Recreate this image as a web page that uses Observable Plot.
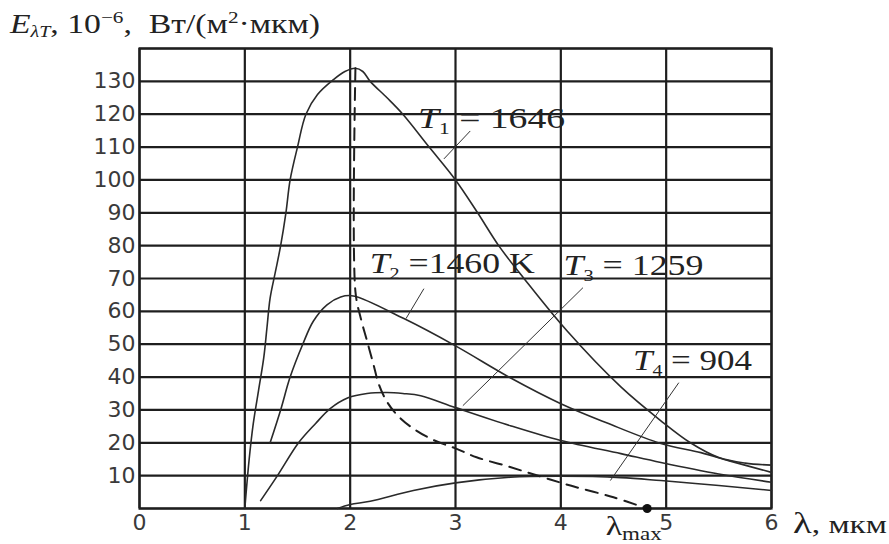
<!DOCTYPE html>
<html>
<head>
<meta charset="utf-8">
<script src="https://cdn.jsdelivr.net/npm/d3@7"></script>
<script src="https://cdn.jsdelivr.net/npm/@observablehq/plot@0.6"></script>
<style>
  html, body { margin: 0; padding: 0; background: #fff; }
  #chart svg { display: block; }
</style>
</head>
<body>
<div id="chart"></div>
<script>
// ---- data ----
const xTicks = [0, 1, 2, 3, 4, 5, 6];
const yTicks = [10, 20, 30, 40, 50, 60, 70, 80, 90, 100, 110, 120, 130];
const yGrid = [0, 10, 20, 30, 40, 50, 60, 70, 80, 90, 100, 110, 120, 130, 140];

// T1 = 1646
const t1Lambda = [1.0, 1.04, 1.08, 1.13, 1.18, 1.21, 1.24, 1.29, 1.34, 1.39, 1.43, 1.50, 1.58, 1.69, 1.84, 1.95, 2.05, 2.12, 2.19, 2.35, 2.50, 2.75, 3.0, 3.21, 3.41, 3.65, 4.06, 4.57, 4.95, 5.23, 5.5, 5.75, 6.0];
const t1E      = [0, 14.6, 25.8, 35.9, 46, 55, 64, 72, 80, 90, 100, 110, 120, 126, 130.5, 133, 134, 133, 130, 125, 120, 110, 100, 90, 80, 70, 54, 37, 26.7, 20, 15.5, 13.8, 13.2];
// T2 = 1460 K
const t2Lambda = [1.24, 1.34, 1.43, 1.55, 1.65, 1.78, 1.91, 2.03, 2.51, 3.0, 3.52, 4.0, 4.44, 4.95, 5.33, 5.6, 6.0];
const t2E      = [20, 30, 40, 50, 57, 62, 64.4, 64.7, 57.8, 49.5, 39.8, 31.9, 26, 19.8, 17, 14.5, 11];
// T3 = 1259
const t3Lambda = [1.15, 1.31, 1.51, 1.67, 1.81, 1.98, 2.16, 2.35, 2.5, 2.67, 3.0, 3.52, 4.0, 4.57, 4.95, 5.5, 6.0];
const t3E      = [2.4, 10, 20, 25.8, 30.4, 33.7, 35, 35.3, 35, 34.3, 30.7, 25.2, 20.7, 16.7, 14, 10.5, 8];
// T4 = 904
const t4Lambda = [1.88, 2.0, 2.19, 2.6, 3.0, 3.52, 4.0, 4.57, 4.95, 5.5, 6.0];
const t4E      = [0, 1.2, 2.2, 5.5, 7.8, 9.5, 9.8, 9.4, 8.5, 7, 5.5];
// locus of maxima (dashed)
const maxLambda = [2.05, 2.05, 2.1, 2.16, 2.22, 2.27, 2.34, 2.43, 2.57, 2.78, 3.0, 3.2, 3.5, 3.8, 4.1, 4.5, 4.82];
const maxE      = [134, 66, 58, 51, 44, 38, 33, 29, 25, 21, 18.3, 15.6, 12.8, 9.8, 6.9, 3.4, 0];
const lambdaMaxPoint = [{x: 4.82, y: 0}];

// curve labels: text anchor (data coords) and leader line (data coords)
const labelNames = ["1", "2", "3", "4"];
const labelRest = [" = 1646", " =1460 K", " = 1259", " = 904"];
const labelX = [2.65, 2.19, 4.03, 4.69];
const labelY = [115.8, 71.4, 70.8, 41.9];
const labelWidths = [147, 165, 140, 119];
const leaderX1 = [3.14, 2.70, 4.21, 5.12];
const leaderY1 = [114.9, 66.9, 67.2, 38.3];
const leaderX2 = [2.89, 2.53, 3.07, 4.47];
const leaderY2 = [106.4, 57.8, 31.3, 8.5];

// ---- tables built from arrays ----
const series = (xs, ys) => xs.map((x, i) => ({x, y: ys[i]}));
const t1 = series(t1Lambda, t1E);
const t2 = series(t2Lambda, t2E);
const t3 = series(t3Lambda, t3E);
const t4 = series(t4Lambda, t4E);
const locus = series(maxLambda, maxE);
const leaders = labelNames.map((n, i) => ({x1: leaderX1[i], y1: leaderY1[i], x2: leaderX2[i], y2: leaderY2[i]}));

const curveStyle = {x: "x", y: "y", stroke: "#2a2a2a", strokeWidth: 1.6, curve: "catmull-rom"};

const chart = Plot.plot({
  width: 889,
  height: 544,
  marginLeft: 139,
  marginRight: 118,
  marginTop: 48,
  marginBottom: 36,
  style: {fontFamily: "'DejaVu Sans', sans-serif", fontSize: "22px", color: "#3a3a3a", background: "#fff"},
  x: {domain: [0, 6]},
  y: {domain: [0, 140]},
  marks: [
    Plot.gridX(xTicks, {stroke: "#1e1e1e", strokeOpacity: 1, strokeWidth: 2.2}),
    Plot.gridY(yGrid, {stroke: "#1e1e1e", strokeOpacity: 1, strokeWidth: 2.2}),
    Plot.frame({stroke: "#1e1e1e", strokeWidth: 2.2}),
    Plot.axisX(xTicks, {tickSize: 0, tickPadding: 6, label: null, tickFormat: d => String(d)}),
    Plot.axisY(yTicks, {tickSize: 0, tickPadding: 4, label: null, tickFormat: d => String(d)}),
    Plot.line(t1, curveStyle),
    Plot.line(t2, curveStyle),
    Plot.line(t3, curveStyle),
    Plot.line(t4, curveStyle),
    Plot.line(locus, {x: "x", y: "y", stroke: "#1e1e1e", strokeWidth: 2, strokeDasharray: "12,8", curve: "catmull-rom"}),
    Plot.dot(lambdaMaxPoint, {x: "x", y: "y", r: 4.5, fill: "#111", stroke: "none"}),
    Plot.link(leaders, {x1: "x1", y1: "y1", x2: "x2", y2: "y2", stroke: "#333", strokeWidth: 1})
  ]
});

document.getElementById("chart").appendChild(chart);

// ---- rich text (sub/superscripts) placed via the chart's scales ----
const xs = chart.scale("x"), ys = chart.scale("y");
const svg = d3.select(chart);
const serif = "'Liberation Serif', 'Times New Roman', serif";

labelNames.forEach((n, i) => {
  const t = svg.append("text")
    .attr("x", xs.apply(labelX[i]))
    .attr("y", ys.apply(labelY[i]))
    .attr("text-anchor", "start")
    .attr("font-family", serif)
    .attr("font-size", 30)
    .attr("fill", "#222")
    .attr("textLength", labelWidths[i])
    .attr("lengthAdjust", "spacingAndGlyphs");
  t.append("tspan").attr("font-style", "italic").text("T");
  t.append("tspan").attr("font-size", 17).attr("dy", 6).text(n);
  t.append("tspan").attr("dy", -6).text(labelRest[i]);
});

// y-axis title
const yt = svg.append("text")
  .attr("x", 10).attr("y", 33)
  .attr("text-anchor", "start")
  .attr("font-family", serif).attr("font-size", 27).attr("fill", "#222")
  .attr("textLength", 310).attr("lengthAdjust", "spacingAndGlyphs");
yt.append("tspan").attr("font-style", "italic").text("E");
yt.append("tspan").attr("font-style", "italic").attr("font-size", 16).attr("dy", 4).text("λT");
yt.append("tspan").attr("dy", -4).text(", 10");
yt.append("tspan").attr("font-size", 17).attr("dy", -10).text("−6");
yt.append("tspan").attr("dy", 10).text(",  Вт/(м");
yt.append("tspan").attr("font-size", 17).attr("dy", -10).text("2");
yt.append("tspan").attr("dy", 10).text("·мкм)");

// x-axis title
const xt = svg.append("text")
  .attr("x", xs.apply(6) + 22).attr("y", ys.apply(0) + 25)
  .attr("text-anchor", "start")
  .attr("font-family", serif).attr("font-size", 26).attr("fill", "#222")
  .attr("textLength", 94).attr("lengthAdjust", "spacingAndGlyphs");
xt.append("tspan").attr("font-size", 30).text("λ");
xt.append("tspan").text(", мкм");

// λmax label near the end of the locus
const lm = svg.append("text")
  .attr("x", xs.apply(lambdaMaxPoint[0].x) - 41).attr("y", ys.apply(0) + 27)
  .attr("text-anchor", "start")
  .attr("font-family", serif).attr("font-size", 28).attr("fill", "#222")
  .attr("textLength", 56).attr("lengthAdjust", "spacingAndGlyphs");
lm.append("tspan").text("λ");
lm.append("tspan").attr("font-size", 19).attr("dy", 5).text("max");
</script>
</body>
</html>
